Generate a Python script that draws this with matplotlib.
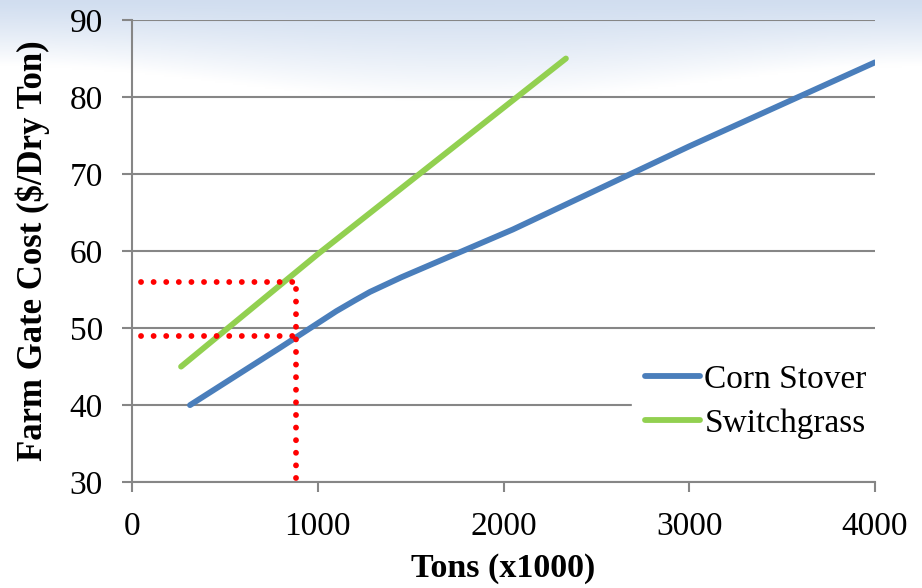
import matplotlib
matplotlib.use("Agg")
import matplotlib.pyplot as plt
import numpy as np

# farm gate cost curves, $/dry ton against supply in thousand tons
corn_tons = [312, 800, 1100, 1200, 1281, 1370, 1450, 2050, 3000, 4000]
corn_cost = [40.0, 47.5, 52.2, 53.6, 54.7, 55.7, 56.6, 62.8, 73.6, 84.5]
grass_tons = [264, 1000, 2336]
grass_cost = [45.0, 59.6, 85.0]

mark_tons = 883
mark_costs = [56, 49]
mark_start = 50

xticks = [0, 1000, 2000, 3000, 4000]
yticks = [30, 40, 50, 60, 70, 80, 90]

plt.rcParams['font.family'] = ['Liberation Serif', 'DejaVu Serif']

fig = plt.figure(figsize=(9.22, 5.88), dpi=100)

# pale sky-blue wash at the top of the slide
bg = fig.add_axes([0, 0, 1, 1], zorder=-1)
h = np.linspace(0, 1, 300)[:, None]
w = np.linspace(0, 1, 200)[None, :]
reach = 0.11 + 0.06 * np.sin(np.pi * w) ** 2
fade = np.clip(h / reach, 0, 1) ** 1.2
top = np.array([0.82, 0.87, 0.94])
grad = top[None, None, :] * (1 - fade[..., None]) + fade[..., None]
bg.imshow(grad, aspect='auto', extent=[0, 1, 0, 1], origin='upper')
bg.axis('off')

ax = fig.add_axes([0.1432, 0.180, 0.8058, 0.786])
ax.patch.set_alpha(0)

ax.plot(corn_tons, corn_cost, color='#4a7ebb', lw=4.2, solid_capstyle='round',
        solid_joinstyle='round', label='Corn Stover', zorder=3)
ax.plot(grass_tons, grass_cost, color='#92d050', lw=4.2, solid_capstyle='round',
        label='Switchgrass', zorder=3)

dots = dict(color='red', lw=4.2, linestyle=(0, (0.01, 2.15)),
            dash_capstyle='round', zorder=4)
for c in mark_costs:
    ax.plot([mark_start, mark_tons], [c, c], **dots)
ax.plot([mark_tons, mark_tons], [30.6, max(mark_costs)], **dots)

ax.set_xlim(0, 4000)
ax.set_ylim(30, 90)
ax.set_xticks(xticks)
ax.set_yticks(yticks)
ax.tick_params(labelsize=24, color='#868686', width=1.5, length=7, pad=14)
ax.grid(axis='y', color='#868686', lw=1.5)
ax.set_axisbelow(True)
for side in ['top', 'right']:
    ax.spines[side].set_visible(False)
for side in ['left', 'bottom']:
    ax.spines[side].set_color('#868686')
    ax.spines[side].set_linewidth(1.5)

ax.set_xlabel('Tons (x1000)', fontsize=24.5, fontweight='bold', labelpad=8)
ax.set_ylabel('Farm Gate Cost ($/Dry Ton)', fontsize=25, fontweight='bold', labelpad=14)

leg = fig.legend(loc='center left', bbox_to_anchor=(0.6855, 0.317), fontsize=24,
                 frameon=True, fancybox=False, handlelength=1.65, handletextpad=0.12,
                 labelspacing=0.42, borderpad=0.4, borderaxespad=0)
leg.get_frame().set_facecolor('white')
leg.get_frame().set_edgecolor('white')
leg.get_frame().set_alpha(1)

fig.savefig('out.png', dpi=100)
